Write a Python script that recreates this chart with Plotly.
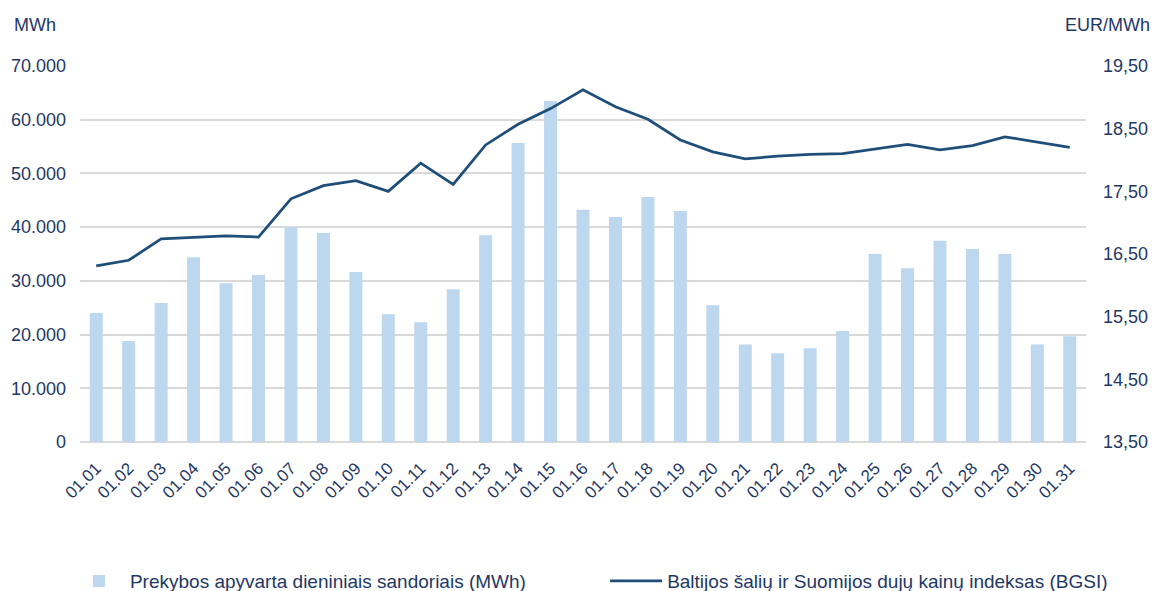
import plotly.graph_objects as go

days = ["01.%02d" % d for d in range(1, 32)]
turnover_mwh = [24000, 18800, 25900, 34400, 29550, 31100, 40000, 38900, 31650, 23780,
                22300, 28450, 38500, 55650, 63500, 43250, 41900, 45600, 43000, 25450,
                18150, 16500, 17450, 20650, 35000, 32350, 37450, 35950, 35000, 18150, 19700]
bgsi_eur = [16.31, 16.40, 16.74, 16.77, 16.79, 16.77, 17.38, 17.59, 17.67, 17.50,
            17.95, 17.61, 18.24, 18.57, 18.82, 19.12, 18.85, 18.65, 18.32, 18.13,
            18.02, 18.06, 18.09, 18.10, 18.18, 18.25, 18.16, 18.23, 18.37, 18.28, 18.20]

left_ticks = [0, 10000, 20000, 30000, 40000, 50000, 60000, 70000]
right_ticks = [13.5, 14.5, 15.5, 16.5, 17.5, 18.5, 19.5]

TXT = "#1F3864"
FONT = "Liberation Sans, Arial, sans-serif"

fig = go.Figure()
fig.add_trace(go.Bar(
    x=days, y=turnover_mwh, name="Prekybos apyvarta dieniniais sandoriais (MWh)",
    marker=dict(color="#BDD7EE", line=dict(width=0)), yaxis="y", legend="legend",
    showlegend=True,
))
fig.add_trace(go.Scatter(
    x=days, y=bgsi_eur, name="Baltijos šalių ir Suomijos dujų kainų indeksas (BGSI)",
    mode="lines", line=dict(color="#1F4E79", width=2.75), yaxis="y2", legend="legend2",
    showlegend=True,
))

fig.update_layout(
    width=1153, height=583,
    margin=dict(l=72, r=75, t=58, b=149, autoexpand=False),
    paper_bgcolor="white", plot_bgcolor="white",
    separators=",.",
    showlegend=True,
    font=dict(family=FONT, size=18, color=TXT),
    bargap=0.6,
    xaxis=dict(type="category", tickangle=-45, showgrid=False, showline=False,
               ticks="", automargin=False, ticklabelstandoff=12,
               tickfont=dict(size=17, color=TXT)),
    yaxis=dict(range=[0, 70000], tickvals=left_ticks, tickformat=",d",
               showgrid=True, gridcolor="#D9D9D9", gridwidth=2,
               zeroline=True, zerolinecolor="#D9D9D9", zerolinewidth=2,
               showline=False, ticks="", ticklabelstandoff=13, automargin=False,
               tickfont=dict(size=18, color=TXT)),
    yaxis2=dict(range=[13.5, 19.5], tickvals=right_ticks, tickformat=".2f",
                overlaying="y", side="right", showgrid=False, zeroline=False,
                showline=False, ticks="", ticklabelstandoff=16, automargin=False,
                tickfont=dict(size=18, color=TXT)),
    legend=dict(orientation="h", x=-0.012, y=-0.37, xanchor="left", yanchor="middle",
                itemwidth=52, font=dict(size=19, color=TXT), bgcolor="rgba(0,0,0,0)"),
    legend2=dict(orientation="h", x=0.522, y=-0.37, xanchor="left", yanchor="middle",
                 itemwidth=52, font=dict(size=19, color=TXT), bgcolor="rgba(0,0,0,0)"),
    annotations=[
        dict(text="MWh", xref="paper", yref="paper", x=-0.068, y=1.11,
             xanchor="left", yanchor="middle", showarrow=False,
             font=dict(size=18, color=TXT)),
        dict(text="EUR/MWh", xref="paper", yref="paper", x=1.066, y=1.11,
             xanchor="right", yanchor="middle", showarrow=False,
             font=dict(size=18, color=TXT)),
    ],
)

fig.write_html("out.html")
